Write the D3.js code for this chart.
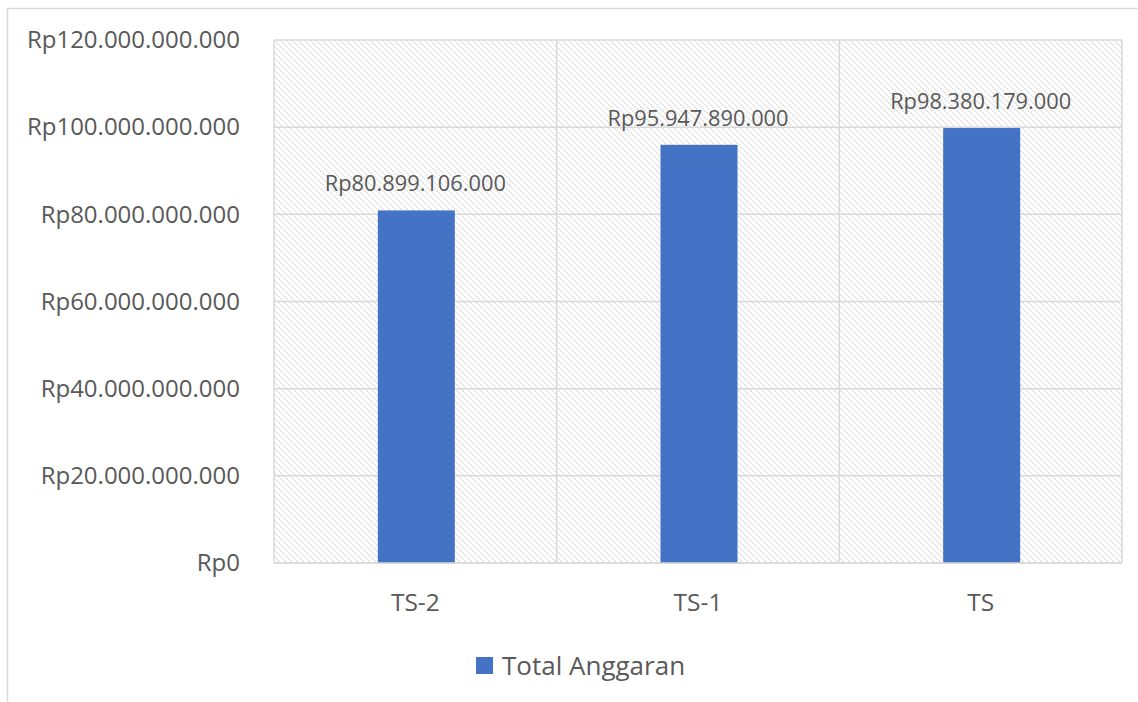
<!DOCTYPE html>
<html><head><meta charset="utf-8">
<script src="https://cdn.jsdelivr.net/npm/d3@7"></script>
<style>body{margin:0;background:#fff}svg{display:block}text{font-family:"Open Sans","Noto Sans",sans-serif;fill:#595959}</style>
</head><body><svg id="c" width="1138" height="702"></svg>
<script>
const categories = ["TS-2", "TS-1", "TS"];
const barValues = [80899106000, 95947890000, 99800000000];
const labelTexts = ["Rp80.899.106.000", "Rp95.947.890.000", "Rp98.380.179.000"];
const tickValues = [0, 20e9, 40e9, 60e9, 80e9, 100e9, 120e9];
const tickLabels = ["Rp0", "Rp20.000.000.000", "Rp40.000.000.000", "Rp60.000.000.000", "Rp80.000.000.000", "Rp100.000.000.000", "Rp120.000.000.000"];
const seriesName = "Total Anggaran";

const svg = d3.select("#c");
const m = {l:274, r:1122, t:40, b:563};
const defs = svg.append("defs");
const pat = defs.append("pattern").attr("id","pt").attr("patternUnits","userSpaceOnUse").attr("width",6).attr("height",6);
pat.append("rect").attr("width",6).attr("height",6).attr("fill","#fff");
[[0,0],[2,2],[4,4]].forEach(([x,y])=>pat.append("rect").attr("x",x).attr("y",y).attr("width",2).attr("height",2).attr("fill","#e9e9e9"));

// outer border
svg.append("rect").attr("x",7.5).attr("y",8.5).attr("width",1200).attr("height",800).attr("fill","#fff").attr("stroke","#d9d9d9").attr("stroke-width",1.5);

const x = d3.scaleBand().domain(categories).range([m.l,m.r]).paddingInner(0).paddingOuter(0);
const y = d3.scaleLinear().domain([0,120e9]).range([m.b,m.t]);

svg.append("rect").attr("x",m.l).attr("y",m.t).attr("width",m.r-m.l).attr("height",m.b-m.t).attr("fill","url(#pt)");

// gridlines
const g = svg.append("g").attr("stroke","#d9d9d9").attr("stroke-width",1.5);
tickValues.forEach(v=>g.append("line").attr("x1",m.l).attr("x2",m.r).attr("y1",y(v)).attr("y2",y(v)));
categories.forEach(c=>g.append("line").attr("x1",x(c)).attr("x2",x(c)).attr("y1",m.t).attr("y2",m.b));
g.append("line").attr("x1",m.r).attr("x2",m.r).attr("y1",m.t).attr("y2",m.b);

// y axis labels
const ya = svg.append("g").attr("transform",`translate(${m.l},0)`).call(d3.axisLeft(y).tickValues(tickValues).tickSize(0).tickPadding(34).tickFormat((d,i)=>tickLabels[i]));
ya.select(".domain").remove();
ya.selectAll("text").style("font-size","24px").attr("fill","#595959");

// bars
const bw = 77;
svg.selectAll(".bar").data(categories).enter().append("rect")
  .attr("x",d=>x(d)+x.bandwidth()/2-bw/2+1).attr("width",bw)
  .attr("y",(d,i)=>y(barValues[i])).attr("height",(d,i)=>y(0)-y(barValues[i])).attr("fill","#4472c4");

// bottom axis line
svg.append("line").attr("x1",m.l).attr("x2",m.r).attr("y1",m.b).attr("y2",m.b).attr("stroke","#d9d9d9").attr("stroke-width",1.5);

// value labels
svg.selectAll(".lbl").data(categories).enter().append("text")
  .attr("x",d=>x(d)+x.bandwidth()/2).attr("y",(d,i)=>y(barValues[i])-19)
  .attr("text-anchor","middle").style("font-size","21.8px").text((d,i)=>labelTexts[i]);

// x labels
const xa = svg.append("g").attr("transform",`translate(0,${m.b})`).call(d3.axisBottom(x).tickSize(0).tickPadding(31));
xa.select(".domain").remove();
xa.selectAll("text").style("font-size","24.5px").attr("fill","#595959");

// legend
svg.append("rect").attr("x",476).attr("y",657).attr("width",17).attr("height",17).attr("fill","#4472c4");
svg.append("text").attr("x",502).attr("y",675).style("font-size","26px").text(seriesName);
</script></body></html>
